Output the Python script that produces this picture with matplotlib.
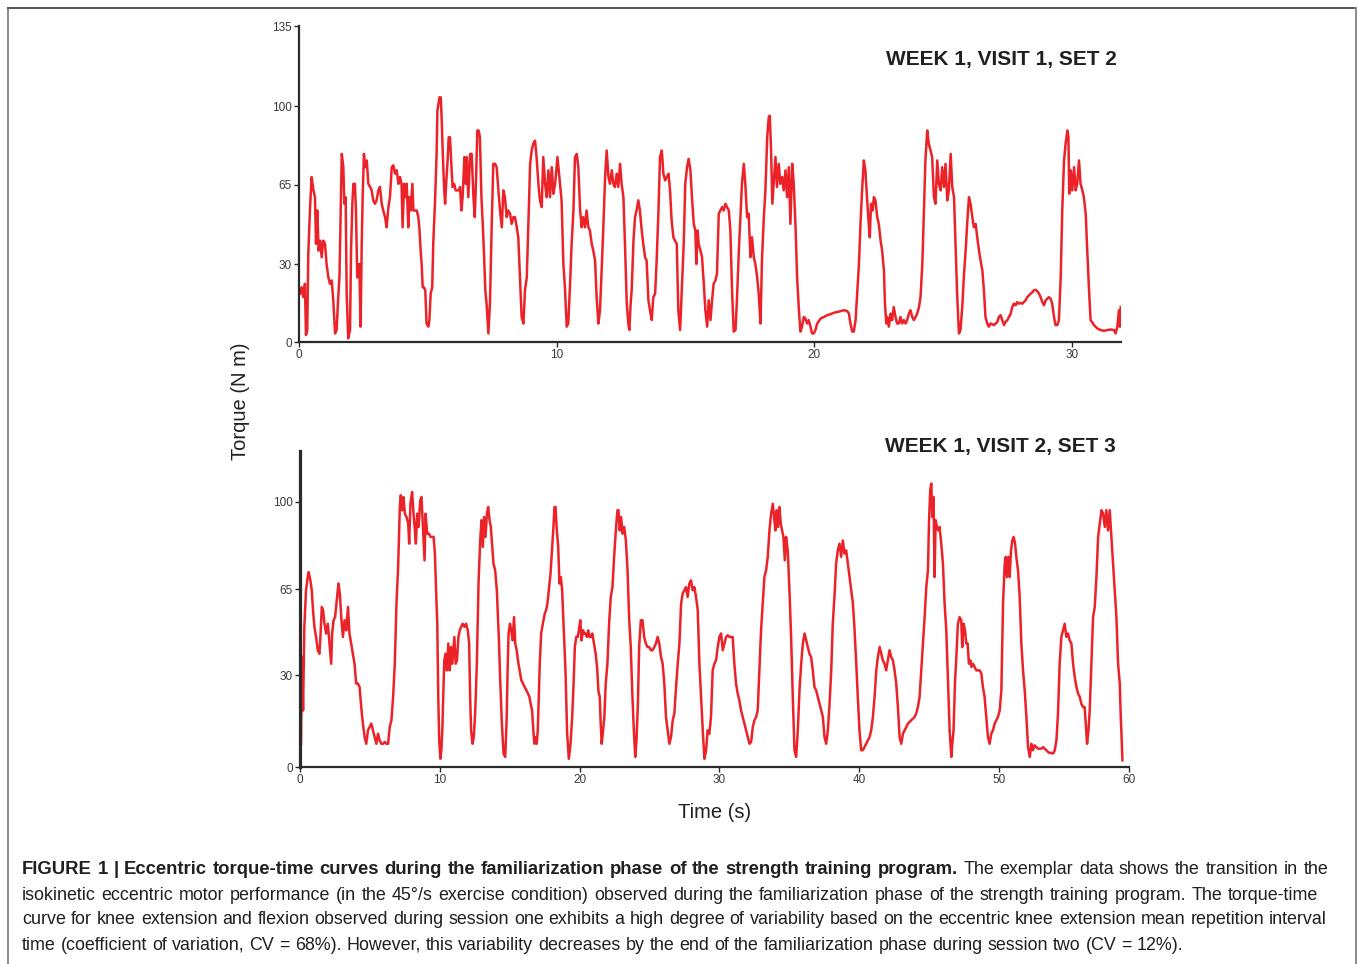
import numpy as np
import matplotlib
matplotlib.use("Agg")
import matplotlib.pyplot as plt
from matplotlib.lines import Line2D

plt.rcParams['font.family'] = ['Liberation Sans', 'DejaVu Sans']

# ------------------------------------------------------------------
# Data (time in s, torque in N m)
# ------------------------------------------------------------------
# WEEK 1, VISIT 1, SET 2
set2_time = [
    0.04, 0.10, 0.17, 0.23, 0.27, 0.32, 0.36, 0.43, 0.49, 0.56, 0.62, 0.66, 0.71, 0.76, 0.82,
    0.88, 0.94, 1.01, 1.07, 1.14, 1.20, 1.27, 1.33, 1.40, 1.46, 1.53, 1.57, 1.62, 1.66, 1.72,
    1.76, 1.81, 1.85, 1.91, 1.98, 2.02, 2.07, 2.11, 2.17, 2.21, 2.26, 2.34, 2.39, 2.43, 2.47,
    2.52, 2.57, 2.63, 2.69, 2.76, 2.82, 2.88, 2.95, 3.01, 3.08, 3.14, 3.21, 3.27, 3.34, 3.40,
    3.47, 3.53, 3.60, 3.66, 3.73, 3.79, 3.86, 3.92, 3.98, 4.02, 4.08, 4.13, 4.18, 4.24, 4.28,
    4.33, 4.40, 4.44, 4.50, 4.57, 4.63, 4.67, 4.72, 4.76, 4.80, 4.85, 4.90, 4.95, 5.02, 5.06,
    5.11, 5.17, 5.21, 5.28, 5.34, 5.37, 5.41, 5.45, 5.50, 5.54, 5.58, 5.63, 5.67, 5.71, 5.76,
    5.81, 5.86, 5.91, 5.96, 6.02, 6.08, 6.14, 6.21, 6.25, 6.30, 6.35, 6.42, 6.47, 6.51, 6.57,
    6.64, 6.70, 6.77, 6.82, 6.87, 6.92, 6.97, 7.02, 7.08, 7.13, 7.18, 7.23, 7.28, 7.35, 7.41,
    7.48, 7.54, 7.61, 7.67, 7.74, 7.80, 7.87, 7.93, 7.99, 8.06, 8.12, 8.19, 8.25, 8.32, 8.38,
    8.45, 8.51, 8.58, 8.64, 8.71, 8.77, 8.84, 8.90, 8.97, 9.03, 9.09, 9.16, 9.22, 9.29, 9.35,
    9.42, 9.48, 9.55, 9.61, 9.68, 9.74, 9.81, 9.87, 9.94, 10.03, 10.08, 10.13, 10.19, 10.26, 10.32,
    10.39, 10.45, 10.52, 10.58, 10.65, 10.71, 10.78, 10.84, 10.91, 10.97, 11.03, 11.10, 11.16, 11.23, 11.29,
    11.36, 11.42, 11.49, 11.55, 11.62, 11.68, 11.75, 11.81, 11.88, 11.94, 12.01, 12.07, 12.14, 12.20, 12.26,
    12.33, 12.39, 12.46, 12.52, 12.59, 12.65, 12.72, 12.78, 12.82, 12.87, 12.91, 12.98, 13.04, 13.10, 13.17,
    13.23, 13.30, 13.36, 13.43, 13.49, 13.56, 13.62, 13.69, 13.75, 13.82, 13.88, 13.95, 14.01, 14.08, 14.14,
    14.21, 14.27, 14.34, 14.40, 14.46, 14.53, 14.59, 14.66, 14.72, 14.79,
    14.93, 14.99, 15.06, 15.12, 15.19, 15.25, 15.32, 15.38, 15.42, 15.47, 15.51, 15.58, 15.64, 15.71,
    15.77, 15.84, 15.90, 15.97, 16.03, 16.09, 16.16, 16.22, 16.29, 16.35, 16.42, 16.48, 16.55, 16.61, 16.68,
    16.74, 16.81, 16.87, 16.94, 17.00, 17.07, 17.13, 17.19, 17.26, 17.32, 17.39, 17.45, 17.52, 17.58, 17.65,
    17.71, 17.78, 17.84, 17.91, 17.97, 18.04, 18.10, 18.17, 18.23, 18.27, 18.32, 18.37, 18.42, 18.49, 18.55,
    18.62, 18.68, 18.75, 18.81, 18.88, 18.94, 19.01, 19.07, 19.14, 19.20, 19.27, 19.33, 19.40, 19.46, 19.52,
    19.59, 19.65, 19.72, 19.78, 19.85, 19.91, 19.98, 20.04, 20.11, 20.24, 20.37, 20.50, 20.63, 20.75, 20.88,
    21.01, 21.14, 21.27, 21.34, 21.40, 21.47, 21.53, 21.60, 21.66, 21.73, 21.79, 21.86, 21.92, 21.98, 22.05,
    22.11, 22.15, 22.20, 22.26, 22.31, 22.37, 22.44, 22.50, 22.57, 22.63, 22.70, 22.74, 22.79, 22.83, 22.89,
    22.96, 23.02, 23.08, 23.15, 23.21, 23.28, 23.34, 23.41, 23.47, 23.54, 23.60, 23.67, 23.73, 23.80, 23.86,
    23.93, 23.99, 24.06, 24.12, 24.19, 24.25, 24.31, 24.38, 24.44, 24.51, 24.57, 24.64, 24.70, 24.77, 24.83,
    24.90, 24.96, 25.03, 25.09, 25.16, 25.22, 25.29, 25.35, 25.42, 25.48, 25.54, 25.61, 25.67, 25.74, 25.80,
    25.87, 25.93, 26.00, 26.06, 26.13, 26.19, 26.26, 26.32, 26.39, 26.45, 26.52, 26.58, 26.64, 26.71, 26.77,
    26.84, 26.97, 27.10, 27.16, 27.23, 27.29, 27.36, 27.42, 27.49, 27.55, 27.62, 27.68, 27.74, 27.81, 27.87,
    27.94, 28.00, 28.07, 28.13, 28.20, 28.26, 28.33, 28.39, 28.46, 28.52, 28.59, 28.65, 28.72, 28.78, 28.85,
    28.91, 28.98, 29.04, 29.10, 29.17, 29.23, 29.30, 29.36, 29.43, 29.49, 29.56, 29.62, 29.69, 29.75, 29.82,
    29.86, 29.89, 29.95, 30.01, 30.08, 30.14, 30.20, 30.27, 30.33, 30.40, 30.46, 30.53, 30.59, 30.66, 30.72,
    30.85, 30.98, 31.11, 31.24, 31.37, 31.50, 31.63, 31.69, 31.76, 31.82, 31.86, 31.89,
]
set2_torque = [
    18.6, 21.1, 17.3, 22.4, 2.8, 4.7, 34.4, 55.1, 68.4, 62.5, 59.5, 38.9, 53.6, 35.9, 40.3,
    33.0, 40.3, 38.9, 30.0, 24.9, 22.4, 23.7, 16.1, 3.4, 4.7, 18.6, 24.9, 55.1, 78.7, 72.8,
    56.6, 59.5, 18.6, 1.5, 4.7, 35.9, 56.6, 65.4, 65.4, 53.6, 24.9, 30.0, 6.0, 35.9, 59.5,
    78.7, 72.8, 75.8, 65.4, 64.0, 62.5, 58.1, 56.6, 58.1, 62.5, 64.0, 56.6, 53.6, 50.7, 46.2,
    55.1, 59.5, 72.8, 73.6, 69.9, 71.4, 65.4, 68.4, 65.4, 46.2, 65.4, 59.5, 65.4, 46.2, 59.5,
    53.6, 65.4, 53.6, 53.6, 53.6, 50.7, 46.2, 35.9, 30.0, 21.1, 21.1, 19.9, 7.2, 6.0, 8.5,
    18.6, 21.1, 38.9, 58.1, 78.7, 97.9, 100.9, 103.8, 103.8, 93.5, 78.7, 64.0, 56.6, 65.4, 74.3,
    86.1, 86.1, 74.3, 64.0, 65.4, 62.5, 62.5, 62.5, 64.0, 53.6, 59.5, 77.3, 65.4, 77.3, 59.5,
    78.7, 78.7, 59.5, 50.7, 66.9, 89.1, 89.1, 86.1, 59.5, 47.7, 34.4, 19.9, 14.8, 3.4, 14.8,
    47.7, 74.3, 74.3, 72.8, 62.5, 53.6, 46.2, 62.5, 59.5, 50.7, 53.6, 52.2, 47.7, 50.7, 50.7,
    46.2, 41.8, 23.7, 9.7, 7.2, 19.9, 24.9, 47.7, 74.3, 80.2, 83.2, 84.6, 77.3, 65.4, 58.1,
    55.1, 77.3, 65.4, 59.5, 71.4, 59.5, 72.8, 61.0, 65.4, 77.3, 71.4, 65.4, 58.1, 30.0, 21.1,
    6.0, 7.2, 22.4, 38.9, 53.6, 77.3, 78.7, 72.8, 53.6, 46.2, 50.7, 46.2, 53.6, 46.2, 44.8,
    38.9, 35.9, 31.5, 17.3, 7.2, 12.3, 28.7, 46.2, 68.4, 80.2, 68.4, 65.4, 71.4, 65.4, 64.0,
    69.9, 64.0, 74.3, 65.4, 59.5, 38.9, 14.8, 7.2, 4.7, 14.8, 19.9, 40.3, 50.7, 53.6, 58.1,
    53.6, 44.8, 38.9, 33.0, 31.5, 16.1, 12.3, 8.5, 17.3, 18.6, 31.5, 53.6, 77.3, 80.2, 69.9,
    66.9, 68.4, 69.9, 62.5, 49.2, 41.8, 40.3, 38.9, 12.3, 4.7,
    38.9, 65.4, 72.8, 76.5, 71.4, 59.5, 47.7, 44.8, 30.0, 44.8, 38.9, 35.9, 33.0, 22.4,
    12.3, 6.0, 16.1, 8.5, 16.1, 22.4, 23.7, 26.2, 52.2, 53.6, 55.1, 53.6, 56.6, 55.1, 53.6,
    44.8, 18.6, 4.1, 4.7, 17.3, 35.9, 50.7, 65.4, 74.3, 65.4, 50.7, 52.2, 33.0, 41.8, 33.0,
    30.0, 24.9, 18.6, 7.2, 33.0, 50.7, 62.5, 86.1, 95.0, 95.7, 80.2, 56.6, 65.4, 77.3, 64.0,
    74.3, 65.4, 68.4, 62.5, 71.4, 59.5, 72.8, 47.7, 74.3, 65.4, 46.2, 24.9, 12.3, 4.1, 6.0,
    9.7, 9.1, 7.2, 8.5, 6.0, 3.4, 3.4, 4.7, 7.2, 9.1, 9.7, 10.4, 10.8, 11.3, 11.6,
    11.9, 12.3, 12.0, 11.0, 7.2, 4.1, 4.1, 8.5, 18.6, 30.0, 47.7, 64.0, 75.8, 71.4, 58.1,
    47.7, 41.8, 56.6, 53.6, 59.5, 58.1, 50.7, 47.7, 40.3, 35.9, 27.5, 14.8, 7.2, 9.7, 6.0,
    11.0, 8.5, 13.5, 9.7, 7.2, 7.2, 9.7, 7.2, 8.5, 7.2, 8.5, 11.0, 12.3, 9.7, 8.5,
    9.7, 11.0, 13.5, 17.3, 30.0, 53.6, 75.8, 89.1, 83.2, 80.2, 77.3, 59.5, 56.6, 75.8, 65.4,
    62.5, 72.8, 64.0, 74.3, 58.1, 62.5, 78.7, 64.0, 59.5, 38.9, 18.6, 3.4, 4.7, 13.5, 24.9,
    35.9, 47.7, 59.5, 56.6, 50.7, 46.2, 47.7, 41.8, 35.9, 31.5, 27.5, 19.9, 9.7, 7.2, 6.0,
    7.2, 6.6, 7.8, 9.7, 10.4, 8.5, 6.6, 7.8, 8.5, 9.7, 11.0, 13.5, 14.8, 14.2, 15.4,
    14.8, 15.1, 14.8, 15.4, 16.1, 17.3, 18.0, 18.6, 19.2, 19.9, 20.1, 19.6, 18.6, 17.3, 15.4,
    14.2, 16.1, 16.7, 17.3, 16.7, 14.8, 9.7, 6.6, 6.6, 8.5, 24.9, 53.6, 75.8, 83.2, 89.1,
    86.1, 61.0, 71.4, 62.5, 72.8, 62.5, 65.4, 75.8, 65.4, 62.5, 59.5, 52.2, 35.9, 19.9, 8.5,
    6.6, 5.3, 4.7, 4.4, 4.7, 4.9, 4.7, 3.4, 6.0, 12.3, 6.0, 13.5,
]

# WEEK 1, VISIT 2, SET 3
set3_time = [
    0.07, 0.14, 0.22, 0.31, 0.43, 0.55, 0.62, 0.74, 0.84, 0.93, 1.03, 1.15, 1.27, 1.39, 1.46,
    1.56, 1.65, 1.75, 1.87, 1.99, 2.11, 2.23, 2.30, 2.40, 2.51, 2.63, 2.75, 2.85, 2.95, 3.07,
    3.19, 3.31, 3.43, 3.54, 3.66, 3.78, 3.90, 4.02, 4.14, 4.26, 4.38, 4.50, 4.62, 4.74, 4.86,
    4.98, 5.10, 5.22, 5.34, 5.46, 5.58, 5.70, 5.82, 5.94, 6.06, 6.18, 6.30, 6.42, 6.54, 6.66,
    6.78, 6.90, 7.02, 7.14, 7.21, 7.31, 7.40, 7.50, 7.62, 7.74, 7.81, 7.90, 8.02, 8.12, 8.22,
    8.29, 8.38, 8.48, 8.60, 8.69, 8.81, 8.91, 8.98, 9.10, 9.22, 9.34, 9.46, 9.56, 9.65, 9.75,
    9.82, 9.89, 9.96, 10.04, 10.11, 10.18, 10.25, 10.32, 10.42, 10.51, 10.61, 10.71, 10.80, 10.90, 10.97,
    11.04, 11.14, 11.23, 11.33, 11.43, 11.52, 11.64, 11.76, 11.88, 12.00, 12.10, 12.17, 12.24, 12.34, 12.43,
    12.53, 12.65, 12.77, 12.89, 12.98, 13.08, 13.17, 13.27, 13.37, 13.46, 13.56, 13.65, 13.75, 13.84, 13.96,
    14.08, 14.16, 14.23, 14.32, 14.44, 14.56, 14.68, 14.78, 14.85, 14.92, 15.02, 15.11, 15.21, 15.31, 15.40,
    15.50, 15.59, 15.71, 15.83, 15.95, 16.07, 16.19, 16.31, 16.41, 16.50, 16.60, 16.69, 16.77, 16.84, 16.93,
    17.01, 17.08, 17.15, 17.25, 17.37, 17.51, 17.60, 17.70, 17.80, 17.92, 18.04, 18.13, 18.20, 18.28, 18.37,
    18.47, 18.56, 18.66, 18.75, 18.87, 18.99, 19.11, 19.23, 19.35, 19.47, 19.57, 19.66, 19.76, 19.86, 19.95,
    20.05, 20.14, 20.24, 20.34, 20.43, 20.53, 20.62, 20.72, 20.81, 20.91, 21.03, 21.15, 21.27, 21.34, 21.44,
    21.51, 21.58, 21.68, 21.77, 21.87, 21.99, 22.11, 22.23, 22.35, 22.47, 22.59, 22.71, 22.78, 22.87, 22.97,
    23.07, 23.19, 23.31, 23.43, 23.54, 23.66, 23.78, 23.88, 23.98, 24.07, 24.17, 24.26, 24.38, 24.50, 24.62,
    24.74, 24.86, 24.98, 25.10, 25.22, 25.34, 25.46, 25.58, 25.70, 25.82, 25.94, 26.06, 26.18, 26.30, 26.42,
    26.54, 26.66, 26.78, 26.90, 27.02, 27.14,
    27.26, 27.37, 27.49, 27.61, 27.73, 27.85, 27.97, 28.09, 28.21, 28.33, 28.45, 28.57, 28.69, 28.81, 28.93,
    29.05, 29.16, 29.28, 29.40, 29.52, 29.64, 29.76, 29.88, 30.00, 30.12, 30.24, 30.36, 30.48, 30.60, 30.72,
    30.84, 30.95, 31.07, 31.19, 31.31, 31.43, 31.55, 31.67, 31.79, 31.91, 32.03, 32.15, 32.27, 32.39, 32.51,
    32.63, 32.74, 32.86, 32.98, 33.10, 33.22, 33.34, 33.46, 33.58, 33.70, 33.82, 33.91, 34.01, 34.10, 34.20,
    34.30, 34.39, 34.49, 34.58, 34.68, 34.77, 34.89, 35.01, 35.13, 35.25, 35.37, 35.49, 35.61, 35.73, 35.85,
    35.97, 36.09, 36.21, 36.32, 36.44, 36.56, 36.68, 36.80, 36.92, 37.04, 37.16, 37.28, 37.40, 37.52, 37.64,
    37.76, 37.88, 38.00, 38.11, 38.23, 38.35, 38.47, 38.59, 38.71, 38.83, 38.95, 39.07, 39.19, 39.31, 39.43,
    39.55, 39.67, 39.79, 39.90, 40.02, 40.14, 40.26, 40.38, 40.50, 40.62, 40.74, 40.86, 40.98, 41.10, 41.22,
    41.34, 41.46, 41.58, 41.69, 41.81, 41.93, 42.05, 42.17, 42.29, 42.41, 42.53, 42.65, 42.77, 42.89, 43.01,
    43.13, 43.25, 43.37, 43.48, 43.60, 43.72, 43.84, 43.96, 44.08, 44.20, 44.32, 44.44, 44.56, 44.68, 44.80,
    44.92, 44.99, 45.08, 45.16, 45.23, 45.32, 45.39, 45.47, 45.56, 45.66, 45.75, 45.87, 45.99, 46.11, 46.23,
    46.35, 46.47, 46.59, 46.66, 46.75, 46.85, 46.95, 47.06, 47.18, 47.30, 47.37, 47.47, 47.57, 47.66, 47.76,
    47.85, 47.95, 48.04, 48.14, 48.26, 48.38, 48.50, 48.62, 48.74, 48.85, 48.97, 49.09, 49.21, 49.33, 49.45,
    49.57, 49.69, 49.81, 49.93, 50.05, 50.17, 50.29, 50.41, 50.48, 50.57, 50.67, 50.76, 50.86, 50.95, 51.05,
    51.15, 51.24, 51.36, 51.48, 51.60, 51.72, 51.84, 51.96, 52.08, 52.20, 52.32, 52.43, 52.55, 52.67, 52.79,
    52.91, 53.03, 53.15, 53.27, 53.39, 53.51, 53.63, 53.75, 53.87, 53.99, 54.11, 54.22, 54.34, 54.46, 54.58,
    54.70, 54.82, 54.94, 55.06, 55.18, 55.30, 55.42, 55.54, 55.66, 55.78, 55.89, 56.01, 56.13, 56.21, 56.30,
    56.40, 56.49, 56.61, 56.73, 56.85, 56.97, 57.09, 57.21, 57.33, 57.45, 57.57, 57.68, 57.80, 57.92, 58.04,
    58.16, 58.28, 58.40, 58.52, 58.64, 58.71, 58.78, 58.83,
]
set3_torque = [
    7.6, 37.5, 18.5, 49.7, 64.6, 69.9, 71.9, 68.6, 64.6, 56.5, 49.7, 45.6, 40.2, 38.8, 45.6,
    57.8, 56.5, 51.0, 47.0, 51.0, 42.9, 34.7, 47.0, 52.4, 53.7, 60.5, 67.3, 63.2, 53.7, 45.6,
    52.4, 48.3, 57.8, 47.0, 42.9, 38.8, 34.7, 27.3, 27.3, 26.2, 19.6, 14.2, 9.8, 7.6, 12.0,
    13.1, 14.2, 12.0, 9.8, 7.6, 10.9, 8.7, 7.6, 7.6, 8.2, 7.6, 7.6, 13.1, 15.3, 22.9,
    34.7, 59.2, 74.0, 98.0, 102.7, 96.7, 102.0, 95.3, 94.0, 91.3, 83.3, 99.3, 104.0, 95.3, 88.6,
    83.3, 95.3, 90.0, 100.7, 102.0, 88.6, 76.6, 95.3, 87.3, 87.3, 86.0, 86.0, 86.0, 79.3, 61.9,
    51.0, 22.9, 8.7, 2.7, 5.5, 12.0, 24.0, 36.1, 38.8, 32.0, 42.9, 32.0, 41.5, 34.7, 40.2,
    45.6, 34.7, 36.1, 45.6, 48.3, 49.7, 51.0, 49.7, 51.0, 48.3, 42.9, 22.9, 12.0, 7.6, 9.8,
    17.5, 34.7, 67.3, 84.6, 92.7, 82.0, 94.0, 86.0, 95.3, 98.0, 92.7, 90.0, 82.0, 75.3, 72.6,
    64.6, 53.7, 44.2, 28.4, 14.2, 4.4, 3.3, 15.3, 32.0, 47.0, 51.0, 48.3, 44.2, 53.7, 42.9,
    40.2, 36.1, 32.0, 28.4, 27.3, 26.2, 25.1, 24.0, 22.9, 20.7, 18.5, 12.0, 7.6, 9.8, 7.6,
    12.0, 22.9, 34.7, 47.0, 51.0, 55.1, 56.5, 59.2, 64.6, 71.3, 82.0, 90.0, 98.0, 98.0, 88.6,
    82.0, 67.3, 69.9, 64.6, 48.3, 32.0, 10.9, 2.7, 7.6, 16.4, 27.3, 41.5, 45.6, 45.6, 48.3,
    52.4, 44.2, 48.3, 47.0, 47.0, 45.6, 48.3, 45.6, 45.6, 47.0, 42.9, 38.8, 32.0, 25.1, 22.9,
    14.2, 7.6, 12.0, 16.4, 27.3, 34.7, 51.0, 61.9, 65.9, 78.0, 88.6, 96.7, 96.7, 88.6, 94.0,
    87.3, 90.0, 84.6, 72.6, 53.7, 41.5, 22.9, 12.0, 3.3, 8.7, 20.7, 41.5, 52.4, 52.4, 45.6,
    42.9, 41.5, 41.5, 40.2, 40.2, 41.5, 42.9, 45.6, 42.9, 37.5, 34.7, 27.3, 16.4, 12.0, 7.6,
    9.8, 15.3, 17.5, 26.2, 34.7, 42.9,
    59.2, 63.2, 64.6, 65.9, 61.9, 67.3, 68.6, 64.6, 65.9, 61.9, 56.5, 34.7, 22.9, 12.0, 2.7,
    5.5, 12.0, 10.9, 16.4, 32.0, 34.7, 36.1, 41.5, 45.6, 47.0, 40.2, 42.9, 45.6, 46.3, 45.6,
    45.6, 45.6, 34.7, 27.3, 24.0, 21.8, 18.5, 16.4, 14.2, 12.0, 9.8, 7.6, 8.2, 13.1, 15.3,
    16.4, 18.5, 32.0, 48.3, 59.2, 69.9, 72.6, 78.0, 88.6, 95.3, 99.3, 94.0, 88.6, 96.7, 90.0,
    98.0, 91.3, 88.6, 86.0, 76.6, 86.0, 80.6, 64.6, 45.6, 22.9, 5.5, 3.3, 12.0, 25.1, 34.7,
    42.9, 47.0, 44.2, 41.5, 38.8, 37.5, 32.0, 26.2, 25.1, 22.9, 20.7, 18.5, 16.4, 9.8, 7.6,
    12.0, 20.7, 32.0, 51.0, 61.9, 75.3, 80.6, 83.3, 78.0, 84.6, 79.3, 80.6, 75.3, 69.9, 64.6,
    59.2, 48.3, 34.7, 22.9, 12.0, 5.5, 5.5, 6.5, 7.6, 8.7, 9.8, 12.0, 16.4, 22.9, 32.0,
    37.5, 41.5, 38.8, 36.1, 34.7, 32.0, 36.1, 40.2, 37.5, 36.1, 32.0, 27.3, 19.6, 9.8, 7.6,
    10.9, 12.0, 13.1, 14.2, 14.7, 15.3, 15.8, 16.4, 17.5, 19.6, 22.9, 32.0, 42.9, 53.7, 65.9,
    72.6, 91.3, 104.7, 107.4, 94.0, 102.0, 69.9, 92.7, 90.0, 88.6, 90.0, 83.3, 75.3, 59.2, 48.3,
    28.4, 12.0, 3.3, 7.6, 12.0, 27.3, 37.5, 51.0, 53.7, 52.4, 41.5, 51.0, 48.3, 42.9, 42.9,
    34.7, 36.1, 33.4, 34.7, 33.4, 32.0, 32.0, 32.0, 30.7, 26.2, 22.9, 16.4, 9.8, 7.6, 10.9,
    12.0, 14.2, 15.3, 16.4, 18.5, 25.1, 59.2, 75.3, 78.0, 69.9, 78.0, 69.9, 80.6, 84.6, 86.0,
    83.3, 78.0, 72.6, 61.9, 42.9, 32.0, 25.1, 16.4, 6.5, 3.3, 7.6, 5.5, 7.1, 6.5, 6.0,
    6.0, 6.0, 6.5, 6.0, 5.5, 4.9, 4.6, 4.6, 4.4, 5.5, 8.7, 17.5, 34.7, 45.6, 48.3,
    51.0, 45.6, 47.0, 44.2, 42.9, 34.7, 29.3, 26.2, 24.0, 22.9, 20.7, 19.6, 19.6, 14.2, 7.6,
    12.0, 18.5, 34.7, 53.7, 57.8, 69.9, 86.0, 91.3, 96.7, 95.3, 90.0, 96.7, 88.6, 96.7, 86.0,
    75.3, 64.6, 53.7, 34.7, 27.3, 16.4, 8.7, 2.2,
]

# tick labels printed on the original axes
ytick_vals = [0, 30, 65, 100, 135]
set2_xticks = [0, 10, 20, 30]
set3_xticks = [0, 10, 20, 30, 40, 50, 59.3]
set3_xlabels = ['0', '10', '20', '30', '40', '50', '60']

caption_bold = ("FIGURE 1 | Eccentric torque-time curves during the familiarization phase "
                "of the strength training program.")
caption_lines = [
    "The exemplar data shows the transition in the",
    "isokinetic eccentric motor performance (in the 45°/s exercise condition) observed during "
    "the familiarization phase of the strength training program. The torque-time",
    "curve for knee extension and flexion observed during session one exhibits a high degree of "
    "variability based on the eccentric knee extension mean repetition interval",
    "time (coefficient of variation, CV = 68%). However, this variability decreases by the end "
    "of the familiarization phase during session two (CV = 12%).",
]

# ------------------------------------------------------------------
# The printed y ticks are not evenly spaced in value, so use a
# piecewise-linear scale through the tick positions (pixels above axis)
# ------------------------------------------------------------------
def piecewise_scale(ax, vals, pos):
    vals = [-200] + list(vals) + [400]
    slope_lo = (pos[1] - pos[0]) / 30.0
    slope_hi = (pos[-1] - pos[-2]) / 35.0
    pos = [pos[0] - 200 * slope_lo] + list(pos) + [pos[-1] + (400 - 135) * slope_hi]
    fwd = lambda y: np.interp(y, vals, pos)
    inv = lambda p: np.interp(p, pos, vals)
    ax.set_yscale('function', functions=(fwd, inv))


RED = '#ec2229'
AXC = '#2a2a2a'
TXT = '#231f20'

fig = plt.figure(figsize=(13.58, 9.64), dpi=100)
W, H = 1358.0, 964.0

ax1 = fig.add_axes([299 / W, 1 - 342.3 / H, 822 / W, 316.3 / H])
ax2 = fig.add_axes([300 / W, 1 - 767 / H, 829 / W, 316 / H])

ax1.plot(set2_time, set2_torque, color=RED, linewidth=1.8)
ax2.plot(set3_time, set3_torque, color=RED, linewidth=1.8)

piecewise_scale(ax1, ytick_vals, [0, 78.3, 157.6, 236.3, 316.3])
piecewise_scale(ax2, ytick_vals, [0, 91.7, 177.7, 265.0, 352.5])

ax1.set_xlim(0, 31.9)
ax1.set_ylim(0, 135)
ax2.set_xlim(0, 59.3)
ax2.set_ylim(0, 120.4)

ax1.set_yticks(ytick_vals)
ax1.set_yticklabels([str(v) for v in ytick_vals])
ax2.set_yticks(ytick_vals[:4])
ax2.set_yticklabels([str(v) for v in ytick_vals[:4]])
ax1.set_xticks(set2_xticks)
ax1.set_xticklabels([str(v) for v in set2_xticks])
ax2.set_xticks(set3_xticks)
ax2.set_xticklabels(set3_xlabels)

for ax, lw_left in [(ax1, 1.6), (ax2, 2.3)]:
    ax.spines['top'].set_visible(False)
    ax.spines['right'].set_visible(False)
    ax.spines['left'].set_linewidth(lw_left)
    ax.spines['bottom'].set_linewidth(1.6)
    ax.spines['left'].set_color(AXC)
    ax.spines['bottom'].set_color(AXC)
    ax.tick_params(axis='both', direction='out', length=3.5, width=1.0, color=AXC,
                   labelsize=8.5, labelcolor='#3a3a3a', pad=1.5)
    ax.patch.set_alpha(0)

ax1.text(0.9945, 0.895, "WEEK 1, VISIT 1, SET 2", transform=ax1.transAxes,
         ha='right', va='center', fontsize=15, fontweight='bold', color=TXT)
ax2.text(0.9843, 1.015, "WEEK 1, VISIT 2, SET 3", transform=ax2.transAxes,
         ha='right', va='center', fontsize=15, fontweight='bold', color=TXT)

fig.text(240 / W, 1 - 401 / H, "Torque (N m)", rotation=90, ha='center', va='center',
         fontsize=14.5, color=TXT)
fig.text(715 / W, 1 - 812 / H, "Time (s)", ha='center', va='center',
         fontsize=14.5, color=TXT)

# frame around the figure panel
fig.add_artist(Line2D([7.5 / W, 7.5 / W], [0, 1 - 8 / H], color='#8a8a8a', linewidth=1.4))
fig.add_artist(Line2D([7.5 / W, 1356 / W], [1 - 8 / H, 1 - 8 / H], color='#555555', linewidth=1.4))
fig.add_artist(Line2D([1356 / W, 1356 / W], [0, 1 - 8 / H], color='#8a8a8a', linewidth=1.4))

# ------------------------------------------------------------------
# Caption (justified lines, first words bold)
# ------------------------------------------------------------------
renderer = fig.canvas.get_renderer()
REG_SIZE = 12.9
BOLD_SIZE = 13.3


def caption_line(words, y_px, x0_px, x1_px=None):
    # words: list of (text, bold)
    objs = []
    for w, b in words:
        objs.append(fig.text(x0_px / W, 1 - y_px / H, w, ha='left', va='center',
                             fontsize=BOLD_SIZE if b else REG_SIZE,
                             fontweight='bold' if b else 'normal', color=TXT))
    widths = [o.get_window_extent(renderer=renderer).width for o in objs]
    space = 0.278 * REG_SIZE * 100 / 72.0
    if x1_px is None:
        gap = space
    else:
        gap = (x1_px - x0_px - sum(widths)) / (len(objs) - 1)
    x = x0_px
    for o, wd in zip(objs, widths):
        o.set_x(x / W)
        x += wd + gap


line1 = [(w, True) for w in caption_bold.split()] + [(w, False) for w in caption_lines[0].split()]
caption_line(line1, 870, 22, 1328)
caption_line([(w, False) for w in caption_lines[1].split()], 895, 22, 1318)
caption_line([(w, False) for w in caption_lines[2].split()], 920, 22, 1327)
caption_line([(w, False) for w in caption_lines[3].split()], 945, 22)

fig.savefig("out.png", dpi=100)
